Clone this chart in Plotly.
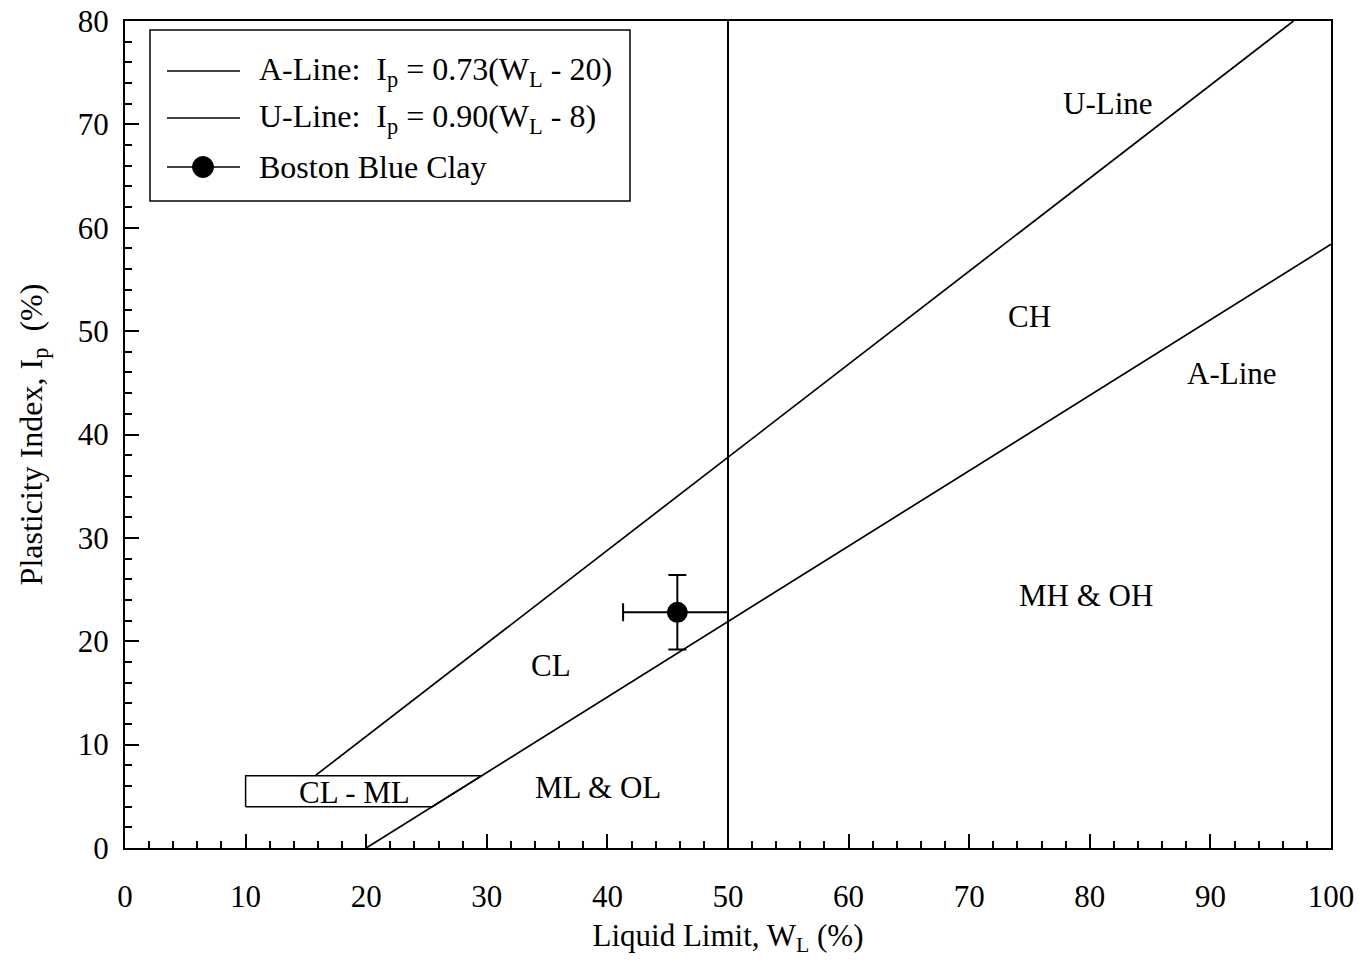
import plotly.graph_objects as go

# Casagrande plasticity chart: A-line and U-line definitions
A_SLOPE, A_OFFSET = 0.73, 20.0
U_SLOPE, U_OFFSET = 0.90, 8.0

# Liquid-limit extents of each line
A_LINE_WL = [20.0, 100.0]
U_LINE_WL = [15.8, 8.0 + 80.0 / 0.90]

# CL-ML band limits (plasticity index) and its left edge
CLML_IP = [4.0, 7.0]
CLML_LEFT_WL = 10.0

# Boston Blue Clay measurement with scatter ranges
BBC_WL = [45.8]
BBC_IP = [22.8]
BBC_WL_MINUS = [4.5]
BBC_WL_PLUS = [4.2]
BBC_IP_MINUS = [3.6]
BBC_IP_PLUS = [3.6]

# Zone labels: (text, liquid limit, plasticity index)
ZONE_LABELS = [
    ("U-Line", 81.5, 72.0),
    ("CH", 75.0, 51.4),
    ("A-Line", 91.8, 45.9),
    ("MH &amp; OH", 79.7, 24.4),
    ("CL", 35.3, 17.7),
    ("ML &amp; OL", 39.2, 5.9),
    ("CL - ML", 19.0, 5.4),
]

X_TICKS = list(range(0, 101, 10))
Y_TICKS = list(range(0, 81, 10))

FONT = "Liberation Serif, Times New Roman, serif"
INK = "black"
TXT = 31

a_ip = [A_SLOPE * (w - A_OFFSET) for w in A_LINE_WL]
u_ip = [U_SLOPE * (w - U_OFFSET) for w in U_LINE_WL]
a_at = [A_OFFSET + ip / A_SLOPE for ip in CLML_IP]

fig = go.Figure()

fig.add_trace(go.Scatter(
    x=A_LINE_WL, y=a_ip, mode="lines", name="A-Line",
    line=dict(color=INK, width=1.7), showlegend=False, hoverinfo="skip"))
fig.add_trace(go.Scatter(
    x=U_LINE_WL, y=u_ip, mode="lines", name="U-Line",
    line=dict(color=INK, width=1.7), showlegend=False, hoverinfo="skip"))

# CL-ML zone outline, closed against the A-line
fig.add_trace(go.Scatter(
    x=[CLML_LEFT_WL, a_at[0], a_at[1], CLML_LEFT_WL, CLML_LEFT_WL],
    y=[CLML_IP[0], CLML_IP[0], CLML_IP[1], CLML_IP[1], CLML_IP[0]],
    mode="lines", line=dict(color=INK, width=1.5),
    showlegend=False, hoverinfo="skip"))

# WL = 50 boundary between low and high plasticity
fig.add_trace(go.Scatter(
    x=[50, 50], y=[0, 80], mode="lines", line=dict(color=INK, width=2),
    showlegend=False, hoverinfo="skip"))

fig.add_trace(go.Scatter(
    x=BBC_WL, y=BBC_IP, mode="markers", name="Boston Blue Clay",
    marker=dict(color=INK, size=21, symbol="circle"),
    error_x=dict(type="data", symmetric=False, array=BBC_WL_PLUS,
                 arrayminus=BBC_WL_MINUS, color=INK, thickness=2, width=9),
    error_y=dict(type="data", symmetric=False, array=BBC_IP_PLUS,
                 arrayminus=BBC_IP_MINUS, color=INK, thickness=2, width=9),
    showlegend=False))

annotations = []
for text, wl, ip in ZONE_LABELS:
    annotations.append(dict(
        x=wl, y=ip, xref="x", yref="y", text=text, showarrow=False,
        xanchor="center", yanchor="middle",
        font=dict(family=FONT, size=TXT, color=INK)))

# Legend box drawn in pixel-accurate paper coordinates
W, H = 1361, 964
L, R, T, B = 125, 30, 21, 116
PW, PH = W - L - R, H - T - B


def px(xp):
    return (xp - L) / PW


def py(yp):
    return (H - B - yp) / PH


shapes = [dict(type="rect", xref="paper", yref="paper",
               x0=px(150), x1=px(630), y0=py(201), y1=py(30),
               line=dict(color=INK, width=1.5), fillcolor="white", layer="above")]

legend_rows = [
    (71, "A-Line:  I<sub>p</sub> = 0.73(W<sub>L</sub> - 20)", False),
    (118, "U-Line:  I<sub>p</sub> = 0.90(W<sub>L</sub> - 8)", False),
    (167, "Boston Blue Clay", True),
]
for yp, text, with_marker in legend_rows:
    shapes.append(dict(type="line", xref="paper", yref="paper",
                       x0=px(167), x1=px(240), y0=py(yp), y1=py(yp),
                       line=dict(color=INK, width=1.6), layer="above"))
    if with_marker:
        shapes.append(dict(type="circle", xref="paper", yref="paper",
                           xsizemode="pixel", ysizemode="pixel",
                           xanchor=px(203), yanchor=py(yp),
                           x0=-10.5, x1=10.5, y0=-10.5, y1=10.5,
                           fillcolor=INK, line=dict(color=INK, width=1),
                           layer="above"))
    annotations.append(dict(
        x=px(257), y=py(yp), xref="paper", yref="paper", text=text,
        showarrow=False, xanchor="left", yanchor="middle",
        font=dict(family=FONT, size=32, color=INK)))

axis_common = dict(
    showline=True, linecolor=INK, linewidth=2, mirror=True,
    ticks="inside", ticklen=14, tickwidth=1.7, tickcolor=INK,
    showgrid=False, zeroline=False, automargin=False,
    tickfont=dict(family=FONT, size=TXT, color=INK),
    minor=dict(ticks="inside", ticklen=7, tickwidth=1.5, tickcolor=INK, dtick=2),
)

fig.update_layout(
    width=W, height=H,
    margin=dict(l=L, r=R, t=T, b=B),
    paper_bgcolor="white", plot_bgcolor="white",
    font=dict(family=FONT, color=INK),
    xaxis=dict(range=[0, 100], tickvals=X_TICKS, ticklabelstandoff=20,
               title=dict(text="Liquid Limit, W<sub>L</sub> (%)", standoff=11,
                          font=dict(family=FONT, size=TXT, color=INK)),
               **axis_common),
    yaxis=dict(range=[0, 80], tickvals=Y_TICKS, ticklabelstandoff=8,
               title=dict(text="Plasticity Index, I<sub>p</sub>  (%)", standoff=26,
                          font=dict(family=FONT, size=32, color=INK)),
               **axis_common),
    annotations=annotations,
    shapes=shapes,
    showlegend=False,
)

fig.write_html("out.html")
